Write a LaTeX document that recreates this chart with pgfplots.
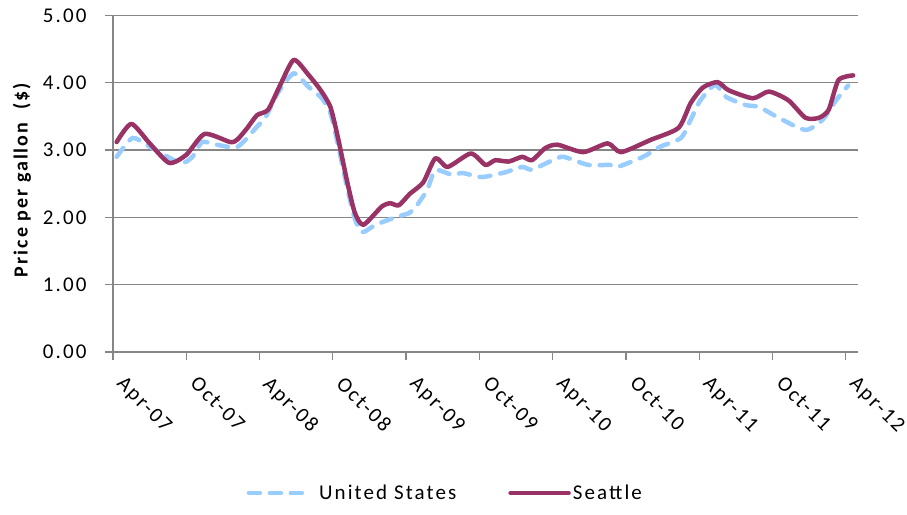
\documentclass[border=0pt]{standalone}
\usepackage{pgfplots}
\pgfplotsset{compat=1.18}
\usepackage{fontspec}
\setmainfont[LetterSpace=10]{Carlito}
\definecolor{usblue}{RGB}{153,204,255}
\definecolor{seattle}{RGB}{153,51,102}
\definecolor{gridgray}{RGB}{134,134,134}
\pgfplotsset{uslegend/.style={legend image code/.code={\draw[##1] (0pt,0pt) -- (58pt,0pt); \path (66pt,0pt);}}}
\begin{document}
\begin{tikzpicture}[x=1pt,y=1pt]
\useasboundingbox (0,0) rectangle (907,514);
\begin{axis}[
  at={(113pt,162pt)}, anchor=south west,
  scale only axis, width=745pt, height=336.5pt,
  xmin=0, xmax=61, ymin=0, ymax=5,
  axis lines=left, axis line style={-, draw=gridgray, line width=1.3pt},
  ytick={0,1,2,3,4,5}, ymajorgrids, grid style={gridgray, line width=1.3pt},
  xtick={0,6,...,60},
  xticklabels={Apr-07,Oct-07,Apr-08,Oct-08,Apr-09,Oct-09,Apr-10,Oct-10,Apr-11,Oct-11,Apr-12},
  tick align=outside, major tick length=8pt, tick style={gridgray, line width=1.3pt},
  yticklabel={\pgfmathprintnumber[fixed,fixed zerofill,precision=2,assume math mode=true]{\tick}},
  ticklabel style={font=\fontsize{21}{25}\selectfont, text=black},
  yticklabel style={xshift=-15pt},
  xticklabel style={rotate=-45, anchor=north west, inner sep=0pt, xshift=19.5pt, yshift=-1.5pt},
  legend style={at={(0.446,-0.419)}, anchor=center, draw=none, fill=none,
    legend columns=2, font=\fontsize{21}{25}\selectfont,
    /tikz/every even column/.append style={column sep=50pt}},
  legend image code/.code={\draw[#1] (0pt,0pt) -- (58pt,0pt);},
]
\addplot[usblue, line width=4.5pt, dash pattern=on 11pt off 10pt, line cap=round, smooth, tension=0.4, uslegend] coordinates {
(0.3,2.90) (1.6,3.18) (3.0,3.05) (5.5,2.81) (6.5,2.90) (7.3,3.12) (8.5,3.08) (10.2,3.05)
(11.8,3.35) (12.5,3.49) (13.5,3.85) (14.8,4.14) (16.0,3.94) (17.1,3.77) (17.8,3.55)
(18.4,3.10) (19.2,2.42) (19.8,1.98) (20.4,1.78) (21.5,1.89) (23.1,2.00) (24.2,2.06)
(24.6,2.11) (25.7,2.40) (26.4,2.70) (27.8,2.63) (28.6,2.66) (30.2,2.60) (32.1,2.67)
(33.5,2.75) (34.3,2.71) (36.0,2.85) (36.9,2.90) (38.9,2.78) (40.7,2.78) (41.3,2.75)
(43.4,2.90) (44.8,3.05) (46.5,3.18) (47.3,3.45) (48.1,3.74) (49.3,3.97) (50.2,3.79)
(51.8,3.67) (52.9,3.64) (54.5,3.48) (56.7,3.30) (58.1,3.45) (59.2,3.74) (60.2,3.96)
};
\addlegendentry{United States}
\addplot[seattle, line width=4.5pt, line cap=round, line join=round, smooth, tension=0.4] coordinates {
(0.3,3.12) (1.5,3.39) (3.0,3.10) (4.6,2.81) (6.0,2.93) (7.5,3.24) (9.6,3.12) (10.2,3.16)
(11.0,3.33) (11.8,3.52) (12.7,3.60) (13.7,3.97) (14.8,4.34) (16.0,4.12) (17.0,3.89)
(17.8,3.64) (18.4,3.20) (19.2,2.51) (19.8,2.07) (20.5,1.89) (22.0,2.16) (22.7,2.21)
(23.4,2.18) (24.3,2.35) (25.4,2.52) (26.4,2.88) (27.4,2.75) (29.3,2.95) (30.5,2.78)
(31.3,2.85) (32.4,2.83) (33.5,2.90) (34.3,2.85) (35.4,3.03) (36.4,3.08) (38.5,2.97)
(40.5,3.10) (41.6,2.97) (44.0,3.15) (46.3,3.33) (47.3,3.70) (48.3,3.93) (49.5,4.01)
(50.4,3.89) (52.4,3.77) (53.7,3.87) (55.3,3.74) (56.7,3.48) (57.8,3.48) (58.6,3.60)
(59.4,4.04) (60.6,4.11)
};
\addlegendentry{Seattle}
\end{axis}
\node[rotate=90, font=\bfseries\fontsize{20}{22}\selectfont] at (22,334) {Price per gallon\ \ (\$)};
\end{tikzpicture}
\end{document}
